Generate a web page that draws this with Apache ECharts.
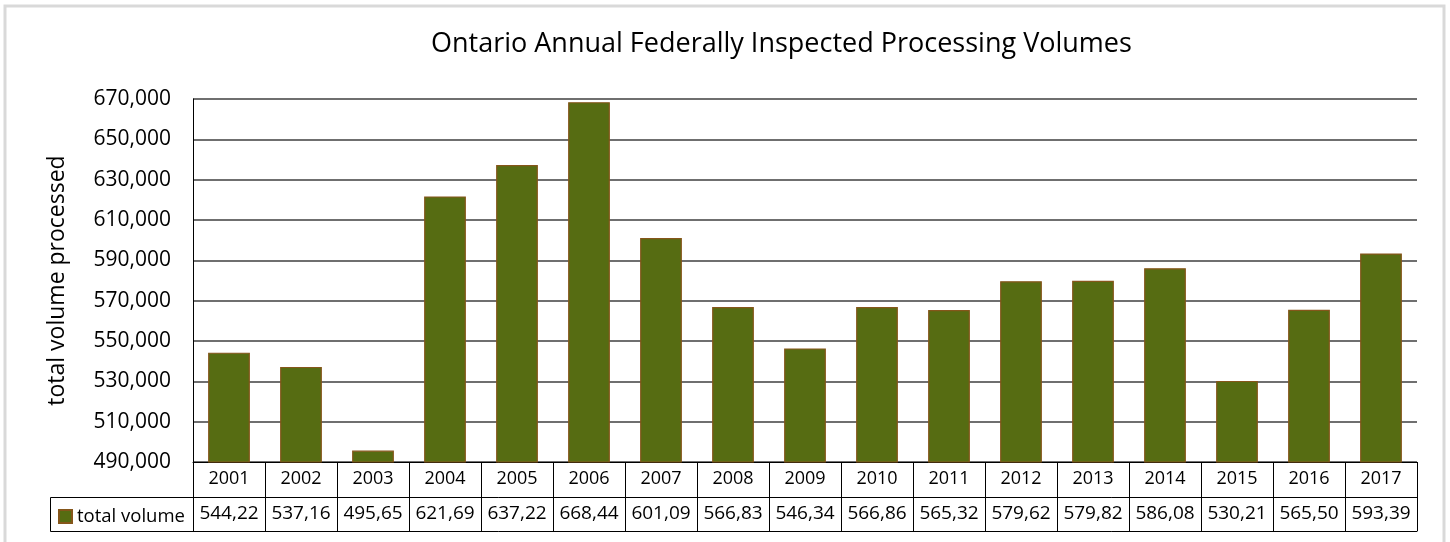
<!DOCTYPE html>
<html>
<head>
<meta charset="utf-8">
<script src="https://cdn.jsdelivr.net/npm/echarts@6/dist/echarts.min.js"></script>
<style>html,body{margin:0;padding:0;background:#fff;}#c{width:1450px;height:542px;}</style>
</head>
<body>
<div id="c"></div>
<script>
const titleText = 'Ontario Annual Federally Inspected Processing Volumes';
const yAxisTitle = 'total volume processed';
const seriesName = 'total volume';
const years = ['2001','2002','2003','2004','2005','2006','2007','2008','2009','2010','2011','2012','2013','2014','2015','2016','2017'];
const volumes = [544224, 537163, 495651, 621697, 637228, 668442, 601095, 566836, 546341, 566868, 565327, 579624, 579820, 586085, 530213, 565507, 593394];
const yMin = 490000, yMax = 670000, yStep = 20000;

const FONT = 'Open Sans';
// Table cells show the value cut off at six characters, as in the original
const tableLabels = volumes.map(v => v.toLocaleString('en-US').slice(0, 6));

const chart = echarts.init(document.getElementById('c'));
chart.setOption({
  animation: false,
  backgroundColor: '#ffffff',
  title: {
    text: titleText,
    left: 426, top: 26,
    textStyle: { fontFamily: FONT, fontSize: 27, fontWeight: 'normal', color: '#000' }
  },
  legend: {
    data: [seriesName],
    left: 53, top: 502,
    itemWidth: 13, itemHeight: 13, itemGap: 4,
    icon: 'rect',
    textStyle: { fontFamily: FONT, fontSize: 18.5, color: '#000', padding: [0,0,0,0] }
  },
  grid: { left: 193, right: 33, top: 99, bottom: 80 },
  xAxis: [
    {
      type: 'category', data: years, position: 'bottom',
      axisLine: { show: true, lineStyle: { color: '#000', width: 1 } },
      axisTick: { show: true, length: 35, interval: 0, lineStyle: { color: '#000', width: 1 } },
      axisLabel: { interval: 0, margin: 8, fontFamily: FONT, fontSize: 18, color: '#000' }
    },
    {
      type: 'category', data: tableLabels, position: 'bottom', offset: 35,
      axisLine: { show: true, lineStyle: { color: '#000', width: 1 } },
      axisTick: { show: true, length: 34, interval: 0, lineStyle: { color: '#000', width: 1 } },
      axisLabel: { interval: 0, margin: 7, fontFamily: FONT, fontSize: 19, color: '#000' }
    },
    {
      type: 'category', data: years, position: 'bottom', offset: 69,
      axisLine: { show: true, lineStyle: { color: '#000', width: 1 } },
      axisTick: { show: false }, axisLabel: { show: false }
    }
  ],
  yAxis: {
    type: 'value', min: yMin, max: yMax, interval: yStep,
    name: yAxisTitle, nameLocation: 'middle', nameRotate: 90, nameGap: 124,
    nameTextStyle: { fontFamily: FONT, fontSize: 23, color: '#000' },
    axisLine: { show: true, lineStyle: { color: '#000', width: 1 } },
    axisTick: { show: false },
    axisLabel: {
      margin: 22, fontFamily: FONT, fontSize: 21, color: '#000',
      formatter: v => v.toLocaleString('en-US')
    },
    splitLine: { show: true, lineStyle: { color: '#3f3f3f', width: 1.6 } }
  },
  series: [{
    name: seriesName, type: 'bar', data: volumes, xAxisIndex: 0,
    barWidth: '58%',
    itemStyle: { color: '#566c12', borderColor: '#85561a', borderWidth: 1.2 }
  }],
  graphic: [
    { type: 'rect', shape: { x: 5, y: 6, width: 1439, height: 600 },
      style: { fill: 'none', stroke: '#d9d9d9', lineWidth: 3 }, silent: true },
    { type: 'rect', shape: { x: 50.5, y: 497.5, width: 143, height: 34 },
      style: { fill: 'none', stroke: '#000', lineWidth: 1 }, silent: true }
  ]
});
</script>
</body>
</html>
